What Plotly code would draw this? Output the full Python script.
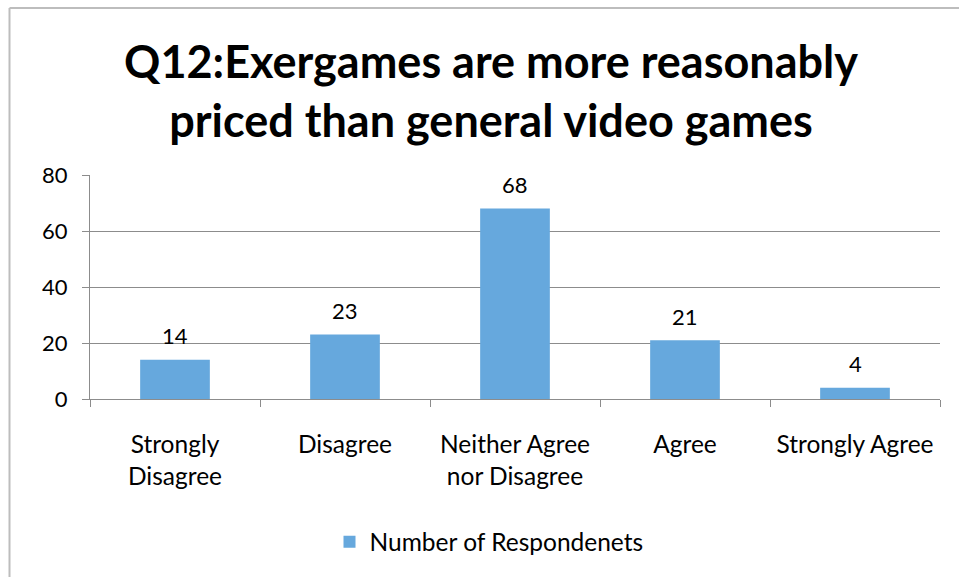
import plotly.graph_objects as go

categories = ["Strongly<br>Disagree", "Disagree", "Neither Agree<br>nor Disagree", "Agree", "Strongly Agree"]
values = [14, 23, 68, 21, 4]
series_name = "Number of Respondenets"
y_ticks = [0, 20, 40, 60, 80]
title_text = "Q12:Exergames are more reasonably<br>priced than general video games"

FONT = "Lato, Open Sans, sans-serif"
W, H = 959, 577
L, R, T, B = 90, 19, 175, 176
pw, ph = W - L - R, H - T - B

fig = go.Figure()
fig.add_trace(go.Bar(
    x=categories, y=values, name=series_name,
    marker=dict(color="#66a8dd", line=dict(width=0)),
    width=0.41,
))

annotations = []
for c, v in zip(categories, values):
    annotations.append(dict(x=c, y=v, xref="x", yref="y", text=str(v), showarrow=False,
                            yanchor="middle", yshift=24, font=dict(size=22, color="black", family=FONT)))

def px_x(x):
    return (x - L) / pw

def px_y(y):
    return (H - B - y) / ph

shapes = [
    dict(type="line", xref="paper", yref="paper", x0=px_x(9.5), x1=px_x(W + 5), y0=px_y(6.5), y1=px_y(6.5),
         line=dict(color="#bdbdbd", width=2)),
    dict(type="line", xref="paper", yref="paper", x0=px_x(9.5), x1=px_x(9.5), y0=px_y(6.5), y1=px_y(H + 5),
         line=dict(color="#bdbdbd", width=2)),
]

fig.update_layout(
    width=W, height=H,
    margin=dict(l=L, r=R, t=T, b=B, pad=0),
    paper_bgcolor="white", plot_bgcolor="white",
    font=dict(family=FONT, size=24, color="black"),
    title=dict(text=title_text, x=491 / W, xanchor="center", y=1 - 78 / H, yanchor="middle",
               font=dict(size=45, family=FONT, color="black", weight="bold")),
    showlegend=True,
    legend=dict(orientation="h", x=px_x(489), xanchor="center", y=px_y(545), yanchor="middle",
                font=dict(size=24.5, family=FONT)),
    annotations=annotations,
    shapes=shapes,
    bargap=0.59,
)
fig.update_xaxes(
    type="category", showgrid=False, showline=True, linecolor="#8c8c8c", linewidth=1,
    ticks="outside", tickson="boundaries", ticklen=7, tickcolor="#8c8c8c",
    tickfont=dict(size=24.5, family=FONT), ticklabelstandoff=24,
)
fig.update_yaxes(
    range=[0, 80], tickvals=y_ticks, showgrid=True, gridcolor="#8c8c8c", gridwidth=1,
    showline=True, linecolor="#8c8c8c", linewidth=1, ticks="outside", ticklen=7, tickcolor="#8c8c8c",
    tickfont=dict(size=22, family=FONT), ticklabelstandoff=10, zeroline=False,
)

fig.write_html("out.html", config={"displayModeBar": False},
               post_script="document.body.style.margin='0';document.body.style.padding='0';")
